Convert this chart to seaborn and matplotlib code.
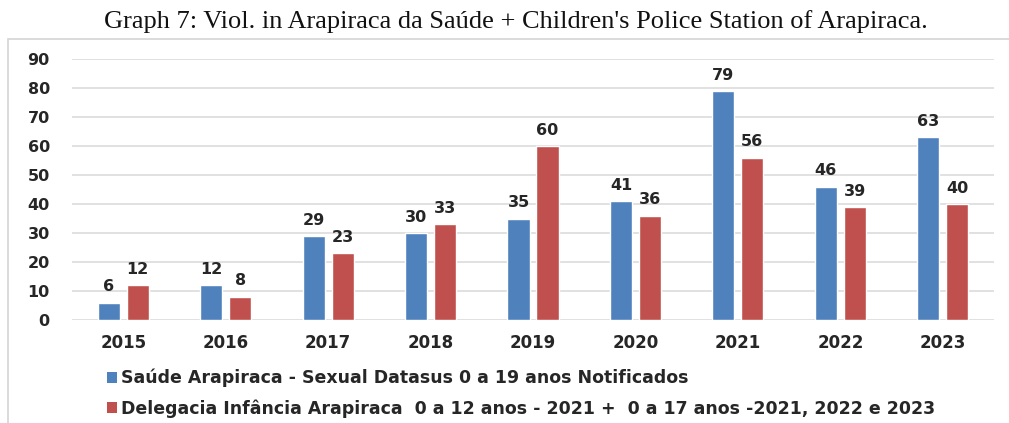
import matplotlib
matplotlib.use("Agg")
import matplotlib.pyplot as plt
from matplotlib.patches import Rectangle, Patch
import seaborn as sns
import pandas as pd

# Data
years = ["2015", "2016", "2017", "2018", "2019", "2020", "2021", "2022", "2023"]
saude = [6, 12, 29, 30, 35, 41, 79, 46, 63]
delegacia = [12, 8, 23, 33, 60, 36, 56, 39, 40]
series_names = [
    "Saúde Arapiraca - Sexual Datasus 0 a 19 anos Notificados",
    "Delegacia Infância Arapiraca  0 a 12 anos - 2021 +  0 a 17 anos -2021, 2022 e 2023",
]
colors = ["#4F81BD", "#C0504D"]
title = "Graph 7: Viol. in Arapiraca da Saúde + Children's Police Station of Arapiraca."

df = pd.DataFrame({
    "year": years * 2,
    "value": saude + delegacia,
    "series": [series_names[0]] * len(years) + [series_names[1]] * len(years),
})

sns.set_theme(style="white")
plt.rcParams["font.family"] = ["DejaVu Sans"]

W, H = 1009, 423
fig = plt.figure(figsize=(W / 100, H / 100), dpi=100)
fig.patch.set_facecolor("white")

# plot area in pixel coordinates
left, right, top, bottom = 72, 994, 59, 320
ax = fig.add_axes([left / W, 1 - bottom / H, (right - left) / W, (bottom - top) / H])

sns.barplot(
    data=df, x="year", y="value", hue="series", hue_order=series_names,
    palette=colors, width=0.566, gap=0.24, saturation=1, ax=ax,
    legend=False, err_kws={"linewidth": 0},
)

ax.set_ylim(0, 90)
ax.set_xlim(-0.5, len(years) - 0.5)
ax.set_yticks(range(0, 91, 10))
ax.yaxis.grid(True, color="#D9D9D9", linewidth=1.1)
ax.set_axisbelow(True)
for s in ax.spines.values():
    s.set_visible(False)
ax.set_xlabel("")
ax.set_ylabel("")
ax.tick_params(axis="y", length=0, pad=16, labelsize=11.5, labelcolor="#262626")
ax.tick_params(axis="x", length=0, pad=10, labelsize=12, labelcolor="#262626")
for lab in ax.get_xticklabels() + ax.get_yticklabels():
    lab.set_fontweight("bold")

for cont in ax.containers:
    ax.bar_label(cont, padding=6, fontsize=11.5, fontweight="bold", color="#262626")

# title
fig.text(516 / W, 1 - 22 / H, title, ha="center", va="center",
         fontsize=19, family="Liberation Serif", color="#111111")

# outer frame (left and top edges visible)
fig.patches.append(Rectangle((8 / W, -0.05), 1.2, 1 - 39 / H + 0.05,
                             transform=fig.transFigure, fill=False,
                             edgecolor="#D4D4D4", linewidth=1.2))

# legend
handles = [Patch(facecolor=c, edgecolor="none") for c in colors]
fig.legend(handles, series_names, loc="upper left",
           bbox_to_anchor=(100 / W, 1 - 362 / H), frameon=False,
           handlelength=0.6, handleheight=0.6, handletextpad=0.2,
           labelspacing=0.68, borderaxespad=0,
           prop={"family": "DejaVu Sans", "weight": "bold", "size": 12.5})

fig.savefig("out.png", dpi=100, facecolor="white")
